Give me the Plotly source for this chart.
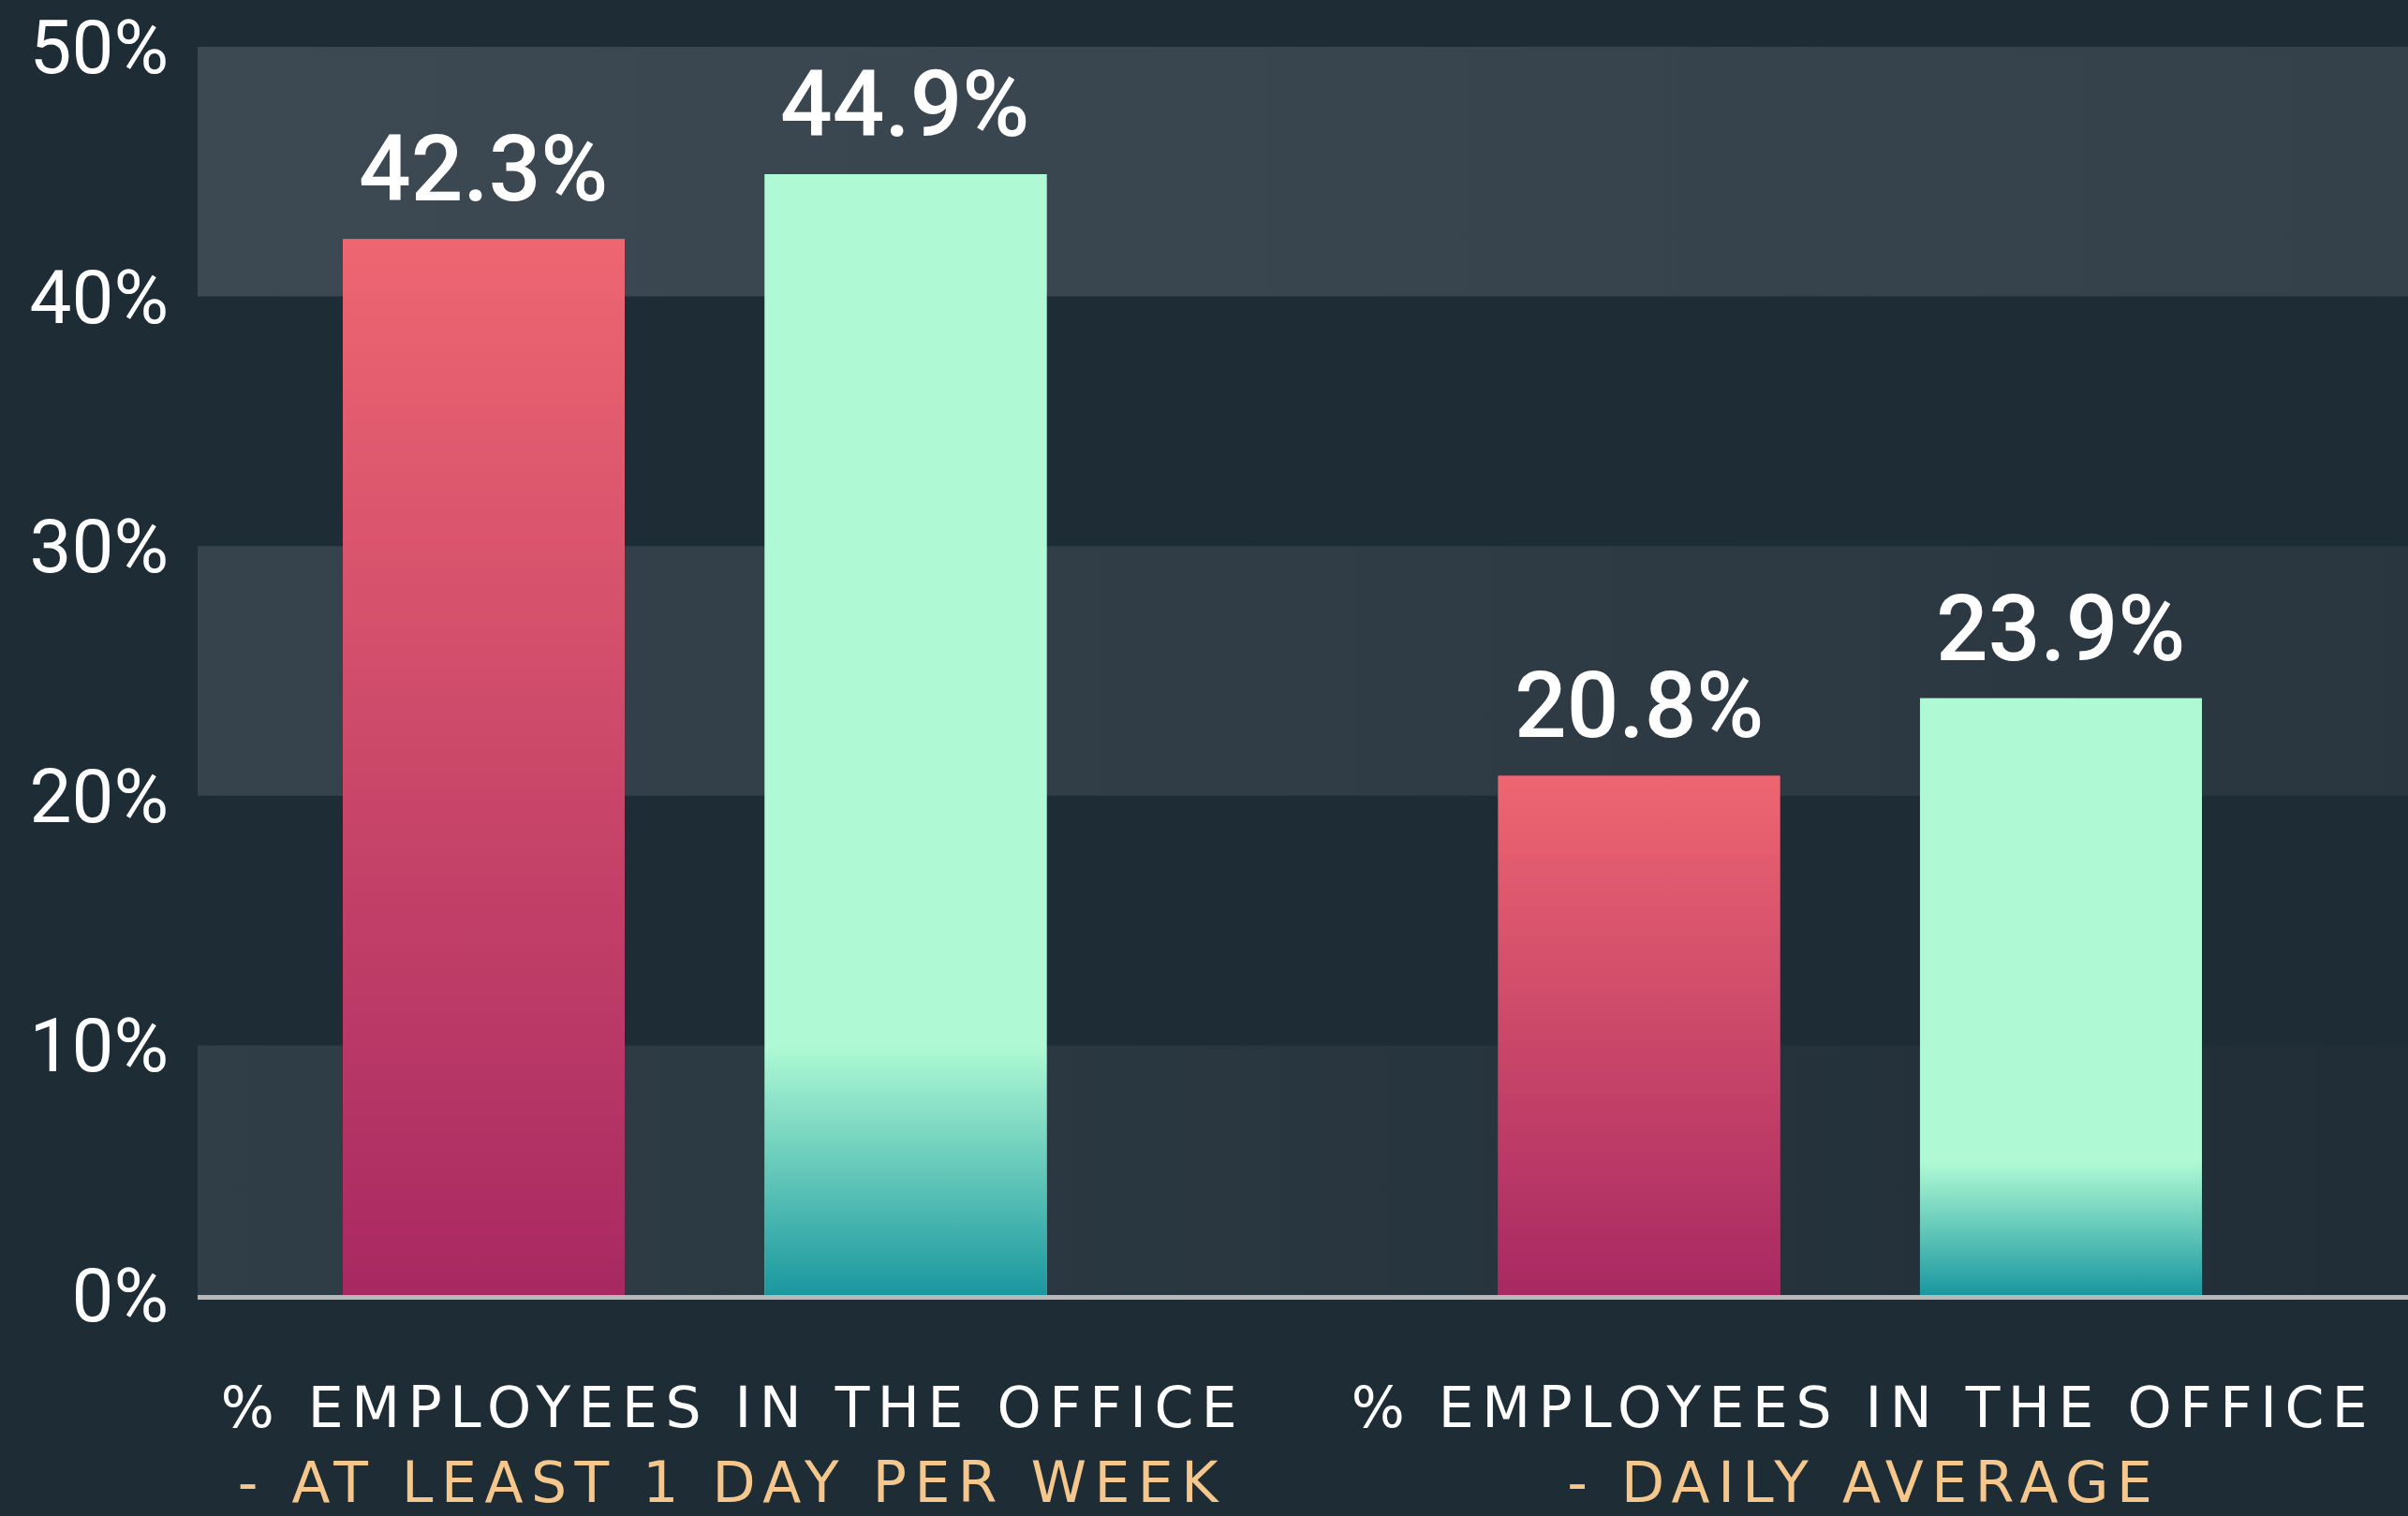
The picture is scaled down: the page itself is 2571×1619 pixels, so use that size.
import json
import plotly.graph_objects as go

# ---------------- data ----------------
category_titles = ["% EMPLOYEES IN THE OFFICE", "% EMPLOYEES IN THE OFFICE"]
category_subtitles = ["- AT LEAST 1 DAY PER WEEK", "- DAILY AVERAGE"]
series_names = ["Series 1", "Series 2"]
series_1 = [42.3, 20.8]
series_2 = [44.9, 23.9]
y_tick_values = [0, 10, 20, 30, 40, 50]
y_tick_labels = ["0%", "10%", "20%", "30%", "40%", "50%"]

# ---------------- style / layout constants ----------------
W, H = 2571, 1619
BG = "#1e2c35"
X_RANGE = [-0.4301, 1.4832]
BAR_W = 0.244
OFFSETS = [-0.3044, 0.0608]
RED_SCALE = [[0, "#a82962"], [1, "#ed6671"]]
GREEN_SCALE = [[0, "#1a979f"], [0.223, "#affad4"], [1, "#affad4"]]
SOLIDS = ["#d04a6a", "#affad4"]
BAND_DEFS = [  # (lo, hi, left colour, right colour)
    (0, 10, "#303e47", "#212e38"),
    (20, 30, "#36434c", "#29363f"),
    (40, 50, "#3c4952", "#34414a"),
]
NUM_FONT = "Roboto, Liberation Sans, sans-serif"
CAT_FONT = "DejaVu Sans, Verdana, sans-serif"
PEACH = "#f5c78c"
LABEL_XSHIFT = [41, 15]
CAT_SIZE = 60
CAT_SPACING_PX = 8.5

fig = go.Figure()

# background bands (base subplot)
for lo, hi, cl, cr in BAND_DEFS:
    fig.add_trace(go.Scatter(
        x=[0, 1, 1, 0, 0], y=[lo, lo, hi, hi, lo],
        mode="lines", line=dict(width=0), fill="toself",
        fillgradient=dict(type="horizontal", start=0, stop=1,
                          colorscale=[[0, cl], [1, cr]]),
        hoverinfo="skip", showlegend=False, xaxis="x", yaxis="y"))

# bars (overlay subplot)
all_series = [series_1, series_2]
scales = [RED_SCALE, GREEN_SCALE]
for k, vals in enumerate(all_series):
    fig.add_trace(go.Bar(
        x=list(range(len(vals))), y=vals, name=series_names[k],
        width=BAR_W, offset=OFFSETS[k],
        marker=dict(color=SOLIDS[k], line=dict(width=0)),
        showlegend=False, xaxis="x2", yaxis="y2"))
    for i, v in enumerate(vals):
        x0 = i + OFFSETS[k]
        x1 = x0 + BAR_W
        fig.add_trace(go.Scatter(
            x=[x0, x1, x1, x0, x0], y=[0, 0, v, v, 0],
            mode="lines", line=dict(width=0), fill="toself",
            fillgradient=dict(type="vertical", start=0, stop=v, colorscale=scales[k]),
            hoverinfo="skip", showlegend=False, xaxis="x2", yaxis="y2"))
        fig.add_annotation(
            x=x0 + BAR_W / 2, y=v, xref="x2", yref="y2",
            text=f"{v:.1f}%", showarrow=False, yanchor="bottom", yshift=15,
            font=dict(family=NUM_FONT, size=98, color="white", weight=500))

# category labels
for i, (t, s) in enumerate(zip(category_titles, category_subtitles)):
    fig.add_annotation(x=i, y=0, xref="x2", yref="y2", text=t, showarrow=False,
                       yanchor="top", yshift=-83, xshift=LABEL_XSHIFT[i],
                       font=dict(family=CAT_FONT, size=CAT_SIZE, color="white"))
    fig.add_annotation(x=i, y=0, xref="x2", yref="y2", text=s, showarrow=False,
                       yanchor="top", yshift=-163, xshift=LABEL_XSHIFT[i],
                       font=dict(family=CAT_FONT, size=CAT_SIZE, color=PEACH))

# baseline (paper-referenced so it is not clipped by the plot area)
fig.add_shape(type="rect", xref="paper", x0=0, x1=1, yref="paper",
              ysizemode="pixel", yanchor=0, y0=0, y1=-5,
              fillcolor="#b8b8b8", line=dict(width=0), layer="above")

fig.update_layout(
    width=W, height=H,
    paper_bgcolor=BG, plot_bgcolor="rgba(0,0,0,0)",
    margin=dict(l=211, r=0, t=50, b=236),
    showlegend=False,
    xaxis=dict(range=[0, 1], visible=False, fixedrange=True),
    yaxis=dict(range=[0, 50], tickvals=y_tick_values, ticktext=y_tick_labels,
               showgrid=False, zeroline=False, showline=False, ticks="",
               ticklabelstandoff=30,
               tickfont=dict(family=NUM_FONT, size=80, color="white")),
    xaxis2=dict(range=X_RANGE, overlaying="x", visible=False),
    yaxis2=dict(range=[0, 50], overlaying="y", visible=False),
)

cat_texts = json.dumps(category_titles + category_subtitles)
post = """
document.body.style.margin = '0';
document.body.style.background = '%s';
document.body.style.overflow = 'hidden';
var catTexts = %s;
function spaceCats() {
  document.querySelectorAll('.annotation-text').forEach(function (t) {
    if (catTexts.indexOf(t.getAttribute('data-unformatted')) >= 0) {
      t.style.letterSpacing = '%spx';
    }
  });
}
spaceCats();
var gdEl = document.getElementById('{plot_id}');
if (gdEl && gdEl.on) { gdEl.on('plotly_afterplot', spaceCats); }
""" % (BG, cat_texts, CAT_SPACING_PX)

fig.write_html("out.html", post_script=post, config={"displayModeBar": False})
